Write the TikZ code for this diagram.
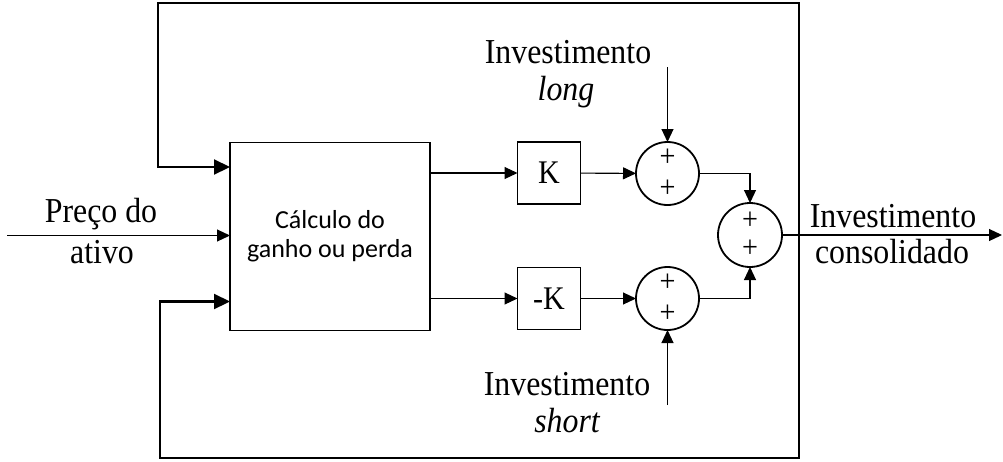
\documentclass[tikz,border=0pt]{standalone}
\usepackage{fontspec}
\setmainfont{Liberation Serif}[ItalicFont={Liberation Serif Italic}, FakeStretch=0.91]
\newfontfamily\calib{Carlito}
\usetikzlibrary{arrows.meta,calc}
\begin{document}
\begin{tikzpicture}[x=1pt,y=-1pt,
  sig/.style={line width=1.1pt, -{Triangle[length=13pt,width=12pt]}},
  fb/.style={line width=2.2pt, -{Triangle[length=16pt,width=15pt]}},
  blockbox/.style={draw, line width=1.8pt, inner sep=0pt, outer sep=0pt},
  sumnode/.style={draw, circle, line width=1.8pt, minimum size=63pt, inner sep=0pt, outer sep=0pt},
  lbl/.style={font=\fontsize{35}{37}\selectfont, anchor=base, inner sep=0pt},
  plus/.style={font=\fontsize{31}{31}\selectfont, inner sep=0pt}
]
\useasboundingbox (0,0) rectangle (1003,461);

% blocks
\node[blockbox, minimum width=200pt, minimum height=188pt, align=center,
      font=\calib\fontsize{26}{29}\selectfont] (blk) at (330,236.5) {Cálculo do\\ganho ou perda};
\node[blockbox, minimum width=63pt, minimum height=62pt, font=\fontsize{33}{33}\selectfont] (kbox) at (549,173) {K};
\node[blockbox, minimum width=63pt, minimum height=62pt, font=\fontsize{33}{33}\selectfont] (mkbox) at (549,298.5) {-K};

% summing junctions
\node[sumnode] (s1) at (667.5,173.5) {};
\node[sumnode] (s2) at (667.5,298.5) {};
\node[sumnode, minimum size=64pt] (s3) at (750,235) {};
\node[plus] (p1a) at ([yshift=15.5pt]s1.center) {+};
\node[plus] (p1b) at ([yshift=-15.5pt]s1.center) {+};
\node[plus] (p2a) at ([yshift=15.5pt]s2.center) {+};
\node[plus] (p2b) at ([yshift=-15.5pt]s2.center) {+};
\node[plus] (p3a) at ([yshift=14pt]s3.center) {+};
\node[plus] (p3b) at ([yshift=-14pt]s3.center) {+};

% labels
\node[lbl] (pr1) at (101,222) {Preço do};
\node[lbl] (pr2) at (102,263) {ativo};
\node[lbl] (lg1) at (568,63) {Investimento};
\node[lbl] (lg2) at (566,100) {\itshape long};
\node[lbl] (sh1) at (567,395) {Investimento};
\node[lbl] (sh2) at (567,432) {\itshape short};
\node[lbl] (co1) at (893,227) {Investimento};
\node[lbl] (co2) at (892,263) {consolidado};

% coordinates
\coordinate (in) at (7,235.5);
\coordinate (out) at (1002,235);
\coordinate (J) at (799,235);
\coordinate (tl) at (158,3);
\coordinate (bl) at (160,458);
\coordinate (lt) at (667.5,67);
\coordinate (st) at (667.5,405);

% signal connectors
\draw[sig] (in) -- (in -| blk.west);
\draw[sig] (blk.east |- kbox) -- (kbox);
\draw[sig] (blk.east |- mkbox) -- (mkbox);
\draw[sig] (kbox) -- (s1);
\draw[sig] (mkbox) -- (s2);
\draw[sig] (lt) -- (s1.north);
\draw[sig] (st) -- (s2.south);
\draw[sig] (s1.east) -| (s3.north);
\draw[sig] (s2.east) -| (s3.south);
\draw[sig] (s3.east) -- (out);

% feedback loops
\draw[fb] (J) |- (tl) |- ([yshift=69.5pt]blk.west);
\draw[fb] (J) |- (bl) |- ([yshift=-65pt]blk.west);
\end{tikzpicture}
\end{document}
